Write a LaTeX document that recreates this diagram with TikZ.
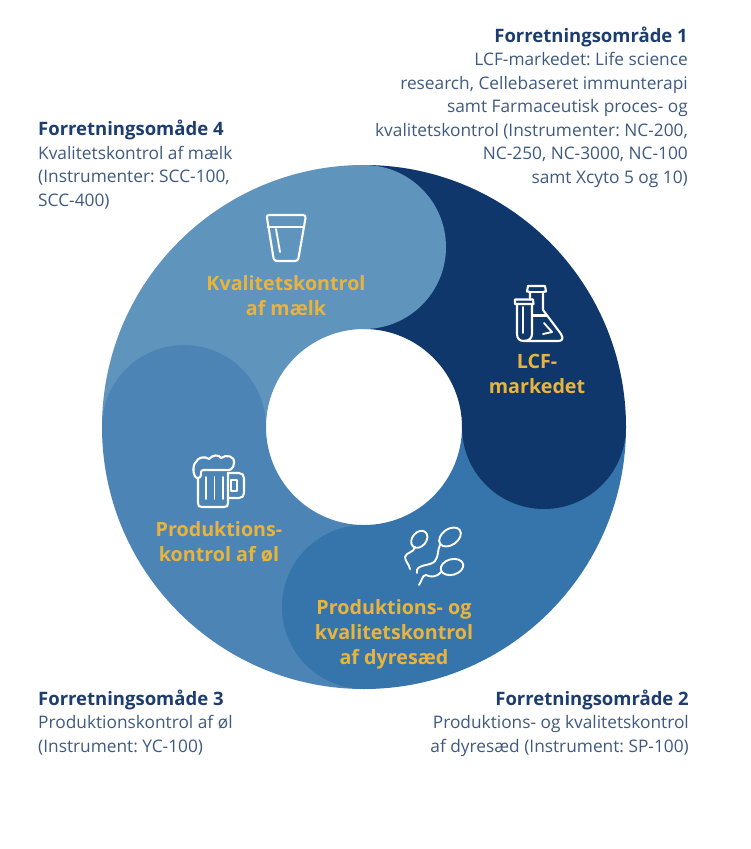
\documentclass[tikz,border=0pt]{standalone}
\usepackage{fontspec}
\setmainfont{Open Sans}
\definecolor{segA}{HTML}{0F376B}
\definecolor{segB}{HTML}{3575AB}
\definecolor{segC}{HTML}{4B84B5}
\definecolor{segD}{HTML}{5F94BD}
\definecolor{amber}{HTML}{E9B43E}
\definecolor{headc}{HTML}{1C3D6E}
\definecolor{bodyc}{HTML}{3F5A80}
\newcommand{\titl}[1]{\rule{0pt}{12pt}{\fontsize{18.5}{23.5}\selectfont\bfseries\color{headc}#1}}
\tikzset{
  infoL/.style={anchor=north west,align=left,inner sep=0pt,text=bodyc,font=\fontsize{17.3}{23.5}\selectfont\frenchspacing},
  infoR/.style={anchor=north east,align=right,inner sep=0pt,text=bodyc,font=\fontsize{17.3}{23.5}\selectfont\frenchspacing},
  seglabel/.style={align=center,inner sep=0pt,text=amber,font=\fontsize{19.7}{25}\selectfont\bfseries},
  icon/.style={draw=white,line width=2.1pt,line cap=round,line join=round},
  thinicon/.style={icon,line width=1.9pt},
}
\begin{document}
\begin{tikzpicture}[x=1pt,y=-1pt]
\useasboundingbox (0,0) rectangle (750,849);
% ring quadrants (y axis points down, so angles run clockwise on the page)
\fill[segD] (102,427) arc[start angle=180,end angle=270,radius=262] -- (364,329) arc[start angle=270,end angle=180,radius=98] -- cycle;
\fill[segA] (364,165) arc[start angle=270,end angle=360,radius=262] -- (462,427) arc[start angle=360,end angle=270,radius=98] -- cycle;
\fill[segB] (626,427) arc[start angle=0,end angle=90,radius=262] -- (364,525) arc[start angle=90,end angle=0,radius=98] -- cycle;
\fill[segC] (364,689) arc[start angle=90,end angle=180,radius=262] -- (266,427) arc[start angle=180,end angle=90,radius=98] -- cycle;
% rounded caps
\fill[segD] (364,247) circle[radius=82];
\fill[segA] (544,427) circle[radius=82];
\fill[segB] (364,607) circle[radius=82];
\fill[segC] (184,427) circle[radius=82];
% glass
\draw[icon] (269,215) -- (303,215) .. controls (305,215) and (305.5,216) .. (305.5,218) -- (298.5,258) .. controls (298,260) and (297,261) .. (295,261) -- (277,261) .. controls (275,261) and (274,260) .. (273.5,258) -- (267,218) .. controls (266.5,216) and (267,215) .. (269,215) -- cycle;
\draw[icon] (268,227) -- (304,227);
\draw[thinicon] (276,229) -- (280,252);
% flask
\draw[icon] (528,286) -- (545,286) -- (546,291.5) -- (543,292) -- (543,310) -- (561,334) .. controls (564,339) and (562,341) .. (558,341) -- (524,341);
\draw[icon] (530,292) -- (543,292);
\draw[icon] (528,286) -- (527,291.5) -- (530,292) -- (530,299.5);
\draw[icon] (515,299.5) -- (533,299.5) -- (533.5,304) -- (515,304) -- cycle;
\draw[icon] (517,304) -- (517,334) .. controls (517,339) and (520,341) .. (524,341) .. controls (529,341) and (532,338) .. (532,334) -- (532,304);
\draw[thinicon] (523,307) -- (523,333);
\draw[icon] (533,315.5) -- (547,315.5);
\draw[thinicon] (544,323) -- (552,332) -- (543,334);
% beer mug
\draw[icon] (198,479) -- (198,503) .. controls (198,506) and (199,507) .. (202,507) -- (224,507) .. controls (227,507) and (228,506) .. (228,503) -- (228,473);
\draw[icon] (228,473) -- (239,473) .. controls (242,473) and (244,475) .. (244,478) -- (244,493) .. controls (244,496) and (242,498) .. (239,498) -- (228,498);
\draw[thinicon] (231,480) -- (237,480) -- (237,491) -- (231,491) -- cycle;
\draw[thinicon] (206,477) -- (206,499);
\draw[thinicon] (214.5,477) -- (214.5,499);
\draw[thinicon] (223,477) -- (223,499);
\draw[icon] (197,478) .. controls (193,477) and (192,465) .. (196,462) .. controls (198,457) and (205,456) .. (209,459) .. controls (212,455) and (219,454) .. (221,458) .. controls (226,454) and (235,456) .. (234,463) .. controls (234,469) and (229,471) .. (226,470) -- (203,470) .. controls (201,470) and (201,472) .. (201,474) .. controls (201,477) and (199,479) .. (197,478) -- cycle;
% sperm
\draw[thinicon,rotate around={50:(419.3,539.3)}] (419.3,539.3) ellipse[x radius=9.5,y radius=7];
\draw[thinicon] (415,547) .. controls (414,553) and (406,552) .. (405,557) .. controls (405,561) and (409,564) .. (410,569);
\draw[thinicon,rotate around={35:(450,537)}] (450,537) ellipse[x radius=12,y radius=8];
\draw[thinicon] (440,545) .. controls (437,551) and (439,556) .. (435,561) .. controls (431,566) and (419,564) .. (417,570) -- (417,573);
\draw[thinicon,rotate around={15:(452,567)}] (452,567) ellipse[x radius=11.5,y radius=7.8];
\draw[thinicon] (441,572) .. controls (436,578) and (430,577) .. (426,575) .. controls (422,575) and (422,581) .. (419,585);
% segment labels
\node[seglabel] (lblD) at (286,296) {Kvalitetskontrol\\af mælk};
\node[seglabel] (lblA) at (537,374) {LCF-\\markedet};
\node[seglabel] (lblC) at (219,542) {Produktions-\\kontrol af øl};
\node[seglabel] (lblB) at (394,634) {Produktions- og\\kvalitetskontrol\\af dyresæd};
% business area texts
\node[infoR] (area1) at (688,26.5) {\titl{Forretningsområde 1}\\LCF-markedet: Life science\\research, Cellebaseret immunterapi\\samt Farmaceutisk proces- og\\kvalitetskontrol (Instrumenter: NC-200,\\NC-250, NC-3000, NC-100\\samt Xcyto 5 og 10)};
\node[infoL] (area4) at (38,120) {\titl{Forretningsomåde 4}\\Kvalitetskontrol af mælk\\(Instrumenter: SCC-100,\\SCC-400)};
\node[infoL] (area3) at (38,689.5) {\titl{Forretningsomåde 3}\\Produktionskontrol af øl\\(Instrument: YC-100)};
\node[infoR] (area2) at (689,689.5) {\titl{Forretningsområde 2}\\Produktions- og kvalitetskontrol\\af dyresæd (Instrument: SP-100)};
\end{tikzpicture}
\end{document}
